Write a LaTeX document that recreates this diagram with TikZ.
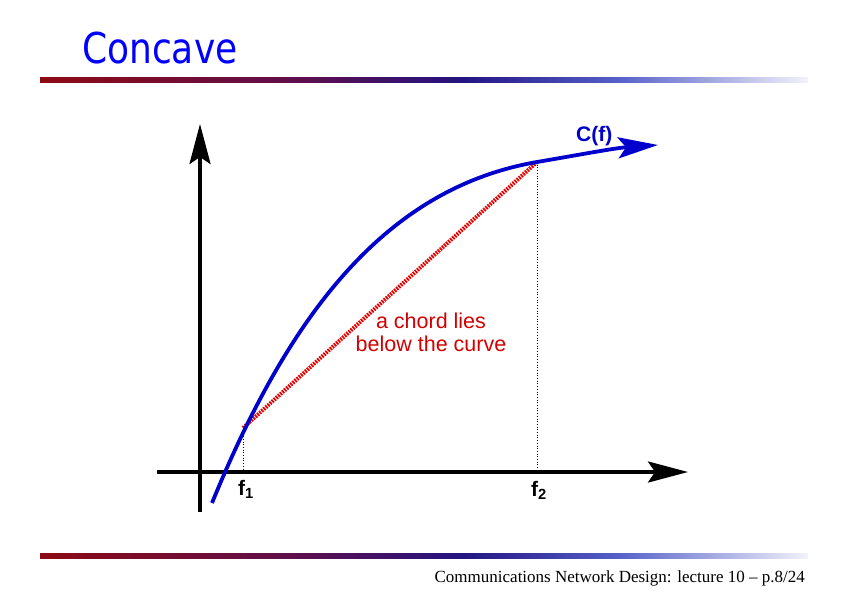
\documentclass[tikz,border=0pt]{standalone}
\usepackage{fontspec}
\setmainfont{Liberation Serif}
\setsansfont{Liberation Sans}
\newfontfamily\titlefont{DejaVu Sans}
\usetikzlibrary{arrows.meta}
\definecolor{curveblue}{RGB}{0,0,204}
\definecolor{chordred}{RGB}{230,0,0}
\definecolor{textred}{RGB}{210,0,0}
\definecolor{titleblue}{RGB}{0,0,255}
\definecolor{ga}{RGB}{140,10,20}
\definecolor{gb}{RGB}{95,15,75}
\definecolor{gc}{RGB}{35,20,130}
\definecolor{gd}{RGB}{85,95,200}
\definecolor{ge}{RGB}{242,242,250}
\pgfdeclarehorizontalshading{rulegrad}{100bp}{color(0bp)=(ga); color(25bp)=(ga); color(41.5bp)=(gb); color(52.5bp)=(gc); color(62.5bp)=(gd); color(75bp)=(ge); color(100bp)=(ge)}
\tikzset{
  axisline/.style={line width=3.5pt, -{Stealth[length=40pt,width=21pt,inset=7pt]}},
  curveline/.style={curveblue, line width=3.8pt, -{Stealth[length=40pt,width=21pt,inset=8pt]}},
  chordline/.style={chordred, line width=4pt, dash pattern=on 1.7pt off 1.1pt},
  guide/.style={black, line width=0.7pt, dotted},
  flabel/.style={font=\sffamily\bfseries\fontsize{21}{23}\selectfont, inner sep=0pt, anchor=base},
  rulebar/.style={shading=rulegrad}
}
\begin{document}
\begin{tikzpicture}[x=1pt,y=-1pt]
\useasboundingbox (0,0) rectangle (842,595);
% title
\node[anchor=base west, inner sep=0pt, text=titleblue] (title) at (82,63)
  {\scalebox{1}[1.18]{\titlefont\fontsize{36}{40}\selectfont Concave}};
% rules
\shade[rulebar] (40,77.5) rectangle (808,82.5);
\shade[rulebar] (40,553) rectangle (808,558);
% footer
\node[anchor=base east, inner sep=0pt, font=\fontsize{17}{19}\selectfont] (footer) at (805,582)
  {Communications Network Design: lecture 10 -- p.8/24};
% axes
\coordinate (ybot) at (200,512);
\coordinate (ytop) at (200,124);
\coordinate (xleft) at (157,472);
\coordinate (xright) at (688,472);
\draw[axisline] (ybot) -- (ytop);
\draw[axisline] (xleft) -- (xright);
% points
\coordinate (p1) at (243,428);
\coordinate (p2) at (537,162);
\coordinate (b1) at (243,472);
\coordinate (b2) at (537,472);
\coordinate (cstart) at (212,503);
\coordinate (cend) at (658,145);
% guides
\draw[guide] (p1) -- (b1);
\draw[guide] (p2) -- (b2);
% chord
\draw[chordline] (p1) -- (p2);
% curve
\draw[curveline] (cstart) .. controls (290,312) and (387,188) .. (p2)
  .. controls (578,155) and (615,148) .. (cend);
% labels
\node[flabel] (f1) at (246,495) {f\textsubscript{1}};
\node[flabel] (f2) at (539,496) {f\textsubscript{2}};
\node[flabel, text=curveblue, anchor=base west] (cf) at (576,141) {C(f)};
\node[align=center, text=textred, inner sep=0pt, anchor=base,
  font=\sffamily\fontsize{21.5}{23}\selectfont] (chordtxt) at (431,351)
  {a chord lies\\below the curve};
\end{tikzpicture}
\end{document}
